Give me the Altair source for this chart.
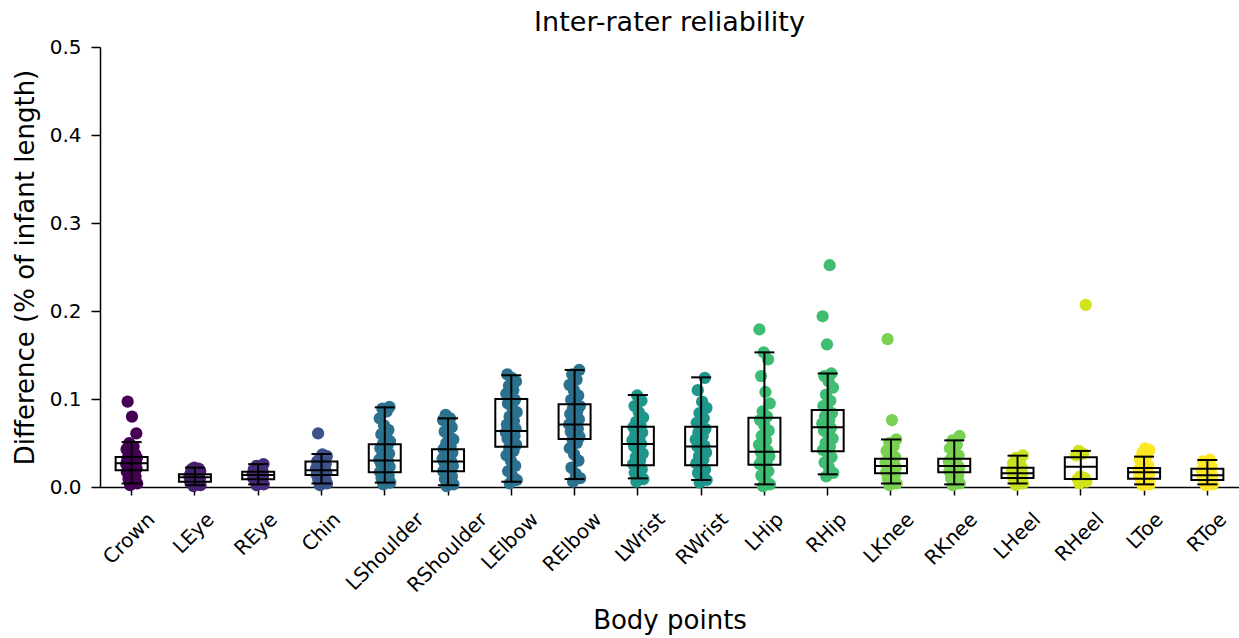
import altair as alt
import pandas as pd

parts = ["Crown", "LEye", "REye", "Chin", "LShoulder", "RShoulder", "LElbow", "RElbow",
         "LWrist", "RWrist", "LHip", "RHip", "LKnee", "RKnee", "LHeel", "RHeel", "LToe", "RToe"]

colors = ["#440154", "#46216f", "#472c7a", "#3b528b", "#2c718e", "#2c718e", "#2b718e", "#2b718e",
          "#1f968b", "#1f968b", "#3dbc74", "#40bd72", "#7ad151", "#7ad151", "#c8e020", "#d2e21b",
          "#fde725", "#fde725"]

# observed point values per body point
crown = [0.002, 0.004, 0.006, 0.009, 0.012, 0.015, 0.017, 0.019, 0.020, 0.021, 0.022, 0.023, 0.024,
         0.025, 0.026, 0.027, 0.027, 0.028, 0.029, 0.030, 0.031, 0.032, 0.033, 0.034, 0.035, 0.037,
         0.040, 0.043, 0.046, 0.050, 0.061, 0.080, 0.097]
leye = [0.001, 0.002, 0.003, 0.004, 0.005, 0.006, 0.006, 0.007, 0.008, 0.009, 0.010, 0.010, 0.011,
        0.011, 0.012, 0.012, 0.013, 0.014, 0.014, 0.015, 0.016, 0.017, 0.018, 0.019, 0.020, 0.021, 0.022]
reye = [0.002, 0.003, 0.005, 0.007, 0.008, 0.009, 0.010, 0.011, 0.012, 0.013, 0.013, 0.014, 0.014,
        0.015, 0.015, 0.016, 0.017, 0.018, 0.019, 0.020, 0.022, 0.024, 0.026]
chin = [0.002, 0.004, 0.006, 0.008, 0.010, 0.012, 0.014, 0.015, 0.016, 0.017, 0.018, 0.019, 0.019,
        0.020, 0.021, 0.022, 0.024, 0.026, 0.028, 0.029, 0.031, 0.033, 0.035, 0.037, 0.061]
lshoulder = [0.003, 0.005, 0.008, 0.010, 0.013, 0.015, 0.017, 0.019, 0.021, 0.023, 0.025, 0.027, 0.029,
             0.030, 0.031, 0.033, 0.035, 0.038, 0.041, 0.044, 0.047, 0.049, 0.052, 0.056, 0.060, 0.065,
             0.070, 0.078, 0.086, 0.089, 0.091]
rshoulder = [0.001, 0.003, 0.006, 0.009, 0.012, 0.015, 0.018, 0.020, 0.022, 0.024, 0.026, 0.028, 0.029,
             0.030, 0.032, 0.034, 0.036, 0.039, 0.041, 0.043, 0.046, 0.050, 0.054, 0.058, 0.063, 0.068,
             0.072, 0.076, 0.078, 0.082]
lelbow = [0.004, 0.008, 0.012, 0.018, 0.024, 0.030, 0.036, 0.041, 0.045, 0.048, 0.052, 0.055, 0.058,
          0.060, 0.062, 0.063, 0.064, 0.066, 0.068, 0.071, 0.075, 0.080, 0.085, 0.090, 0.095, 0.099,
          0.102, 0.106, 0.110, 0.115, 0.120, 0.124, 0.128]
relbow = [0.006, 0.010, 0.015, 0.022, 0.030, 0.037, 0.044, 0.050, 0.054, 0.057, 0.060, 0.063, 0.066,
          0.069, 0.071, 0.072, 0.074, 0.077, 0.080, 0.083, 0.086, 0.089, 0.092, 0.095, 0.099, 0.104,
          0.110, 0.116, 0.122, 0.128, 0.133]
lwrist = [0.006, 0.009, 0.012, 0.016, 0.020, 0.023, 0.026, 0.030, 0.034, 0.038, 0.042, 0.046, 0.049,
          0.050, 0.053, 0.056, 0.059, 0.062, 0.065, 0.068, 0.070, 0.074, 0.079, 0.085, 0.092, 0.098, 0.104]
rwrist = [0.005, 0.008, 0.012, 0.016, 0.020, 0.024, 0.027, 0.031, 0.035, 0.039, 0.043, 0.046, 0.047,
          0.050, 0.054, 0.058, 0.062, 0.066, 0.069, 0.073, 0.078, 0.084, 0.090, 0.097, 0.110, 0.124]
lhip = [0.001, 0.003, 0.008, 0.013, 0.018, 0.022, 0.026, 0.029, 0.032, 0.035, 0.038, 0.040, 0.041,
        0.044, 0.048, 0.053, 0.058, 0.064, 0.070, 0.076, 0.080, 0.086, 0.095, 0.108, 0.126, 0.145,
        0.153, 0.179]
rhip = [0.012, 0.016, 0.022, 0.028, 0.034, 0.039, 0.042, 0.046, 0.050, 0.055, 0.060, 0.064, 0.067,
        0.069, 0.072, 0.076, 0.080, 0.084, 0.088, 0.092, 0.098, 0.105, 0.113, 0.120, 0.126, 0.129,
        0.162, 0.194, 0.252]
lknee = [0.002, 0.004, 0.007, 0.010, 0.013, 0.015, 0.017, 0.019, 0.021, 0.022, 0.023, 0.024, 0.025,
         0.026, 0.028, 0.030, 0.032, 0.034, 0.037, 0.041, 0.046, 0.050, 0.054, 0.076, 0.168]
rknee = [0.002, 0.004, 0.007, 0.010, 0.013, 0.016, 0.018, 0.020, 0.021, 0.022, 0.023, 0.024, 0.025,
         0.027, 0.029, 0.031, 0.033, 0.036, 0.040, 0.044, 0.048, 0.053, 0.058]
lheel = [0.002, 0.004, 0.006, 0.008, 0.010, 0.011, 0.012, 0.013, 0.014, 0.015, 0.015, 0.016, 0.017,
         0.018, 0.019, 0.020, 0.021, 0.022, 0.024, 0.027, 0.030, 0.033, 0.036]
rheel = [0.004, 0.006, 0.008, 0.009, 0.010, 0.012, 0.036, 0.038, 0.041, 0.207]
ltoe = [0.002, 0.003, 0.005, 0.007, 0.009, 0.010, 0.012, 0.013, 0.014, 0.015, 0.016, 0.017, 0.018,
        0.019, 0.020, 0.021, 0.022, 0.024, 0.027, 0.031, 0.035, 0.039, 0.042, 0.044]
rtoe = [0.002, 0.003, 0.005, 0.007, 0.008, 0.009, 0.011, 0.012, 0.013, 0.013, 0.014, 0.015, 0.016,
        0.018, 0.019, 0.020, 0.021, 0.023, 0.026, 0.029, 0.031]

values = [crown, leye, reye, chin, lshoulder, rshoulder, lelbow, relbow, lwrist, rwrist,
          lhip, rhip, lknee, rknee, lheel, rheel, ltoe, rtoe]

# box statistics
whisker_lo = [0.004, 0.002, 0.003, 0.004, 0.005, 0.002, 0.006, 0.009, 0.0098, 0.008,
              0.003, 0.0144, 0.004, 0.003, 0.004, 0.009, 0.003, 0.003]
q1 = [0.019, 0.006, 0.0087, 0.0136, 0.0167, 0.018, 0.0458, 0.0545, 0.0246, 0.0246,
      0.0254, 0.0405, 0.0155, 0.0167, 0.0102, 0.009, 0.0095, 0.008]
median = [0.027, 0.011, 0.0136, 0.019, 0.030, 0.029, 0.0636, 0.071, 0.049, 0.046,
          0.040, 0.068, 0.024, 0.024, 0.0155, 0.023, 0.0167, 0.0133]
q3 = [0.034, 0.0144, 0.0174, 0.029, 0.0485, 0.043, 0.100, 0.094, 0.0686, 0.0686,
      0.0788, 0.0875, 0.032, 0.032, 0.022, 0.0337, 0.0216, 0.0208]
whisker_hi = [0.051, 0.022, 0.026, 0.0375, 0.0905, 0.078, 0.127, 0.133, 0.1045, 0.1246,
              0.153, 0.129, 0.054, 0.053, 0.0356, 0.041, 0.0345, 0.0307]

rows = []
for p, vals in zip(parts, values):
    for k, v in enumerate(vals):
        jit = ((k * 0.618034 + 0.37) % 1.0 - 0.5) * 0.36
        rows.append({"part": p, "val": v, "jit": jit})
df_pts = pd.DataFrame(rows)

df_box = pd.DataFrame({"part": parts, "lo": whisker_lo, "q1": q1, "med": median,
                       "q3": q3, "hi": whisker_hi})

FONT = "DejaVu Sans"

x_enc = alt.X(
    "part:N", sort=parts,
    scale=alt.Scale(paddingInner=0, paddingOuter=0),
    axis=alt.Axis(
        title="Body points", titleFontSize=26, titleFont=FONT, titleColor="black",
        titleFontWeight="normal", titleY=133, titleBaseline="middle",
        labelAngle=-45, labelAlign="right", labelBaseline="middle",
        labelFontSize=20, labelFont=FONT, labelColor="black",
        labelPadding=21, labelOffset=alt.ExprRef("length(datum.label) * 4.0"),
        labelOverlap=False, grid=False,
        tickSize=8, tickWidth=1.5, tickColor="black",
        domainColor="black", domainWidth=1.5,
    ),
)
y_scale = alt.Scale(domain=[0, 0.5], nice=False)
y_axis = alt.Axis(
    title="Difference (% of infant length)", titleFontSize=26, titleFont=FONT,
    titleColor="black", titleFontWeight="normal", titleX=-75, titleBaseline="middle",
    values=[0, 0.1, 0.2, 0.3, 0.4, 0.5], format=".1f", grid=False,
    labelFontSize=20, labelFont=FONT, labelColor="black", labelPadding=10,
    tickSize=9, tickWidth=1.5, tickColor="black",
    domainColor="black", domainWidth=1.5,
)
x_plain = alt.X("part:N", sort=parts, axis=alt.Axis(grid=False))
y_plain_axis = alt.Axis(grid=False)

points = alt.Chart(df_pts).mark_circle(size=150, opacity=1).encode(
    x=x_enc,
    xOffset=alt.XOffset("jit:Q", scale=alt.Scale(domain=[-1, 1])),
    y=alt.Y("val:Q", scale=y_scale, axis=y_axis),
    color=alt.Color("part:N", scale=alt.Scale(domain=parts, range=colors), legend=None),
)

base = alt.Chart(df_box)
whisk = base.mark_rule(color="black", strokeWidth=2).encode(
    x=x_plain, y=alt.Y("lo:Q", axis=y_plain_axis), y2="hi:Q")
box = base.mark_bar(size=32, fillOpacity=0, stroke="black", strokeWidth=2).encode(
    x=x_plain, y=alt.Y("q1:Q", axis=y_plain_axis), y2="q3:Q")
med = base.mark_tick(color="black", thickness=2, size=32, opacity=1).encode(
    x=x_plain, y=alt.Y("med:Q", axis=y_plain_axis))
cap_lo = base.mark_tick(color="black", thickness=2, size=20, opacity=1).encode(
    x=x_plain, y=alt.Y("lo:Q", axis=y_plain_axis))
cap_hi = base.mark_tick(color="black", thickness=2, size=20, opacity=1).encode(
    x=x_plain, y=alt.Y("hi:Q", axis=y_plain_axis))

chart = alt.layer(points, whisk, box, med, cap_lo, cap_hi).properties(
    width=1139, height=440,
    background="white",
    autosize=alt.AutoSizeParams(type="none"),
    padding={"left": 100, "top": 47, "right": 0, "bottom": 151},
    title=alt.Title("Inter-rater reliability", fontSize=27, font=FONT, fontWeight="normal",
                    color="black", offset=0, anchor="middle"),
).configure_view(strokeWidth=0, strokeOpacity=0).configure_axis(grid=False)

chart.save("out.html", embed_options={"renderer": "svg", "actions": False})
